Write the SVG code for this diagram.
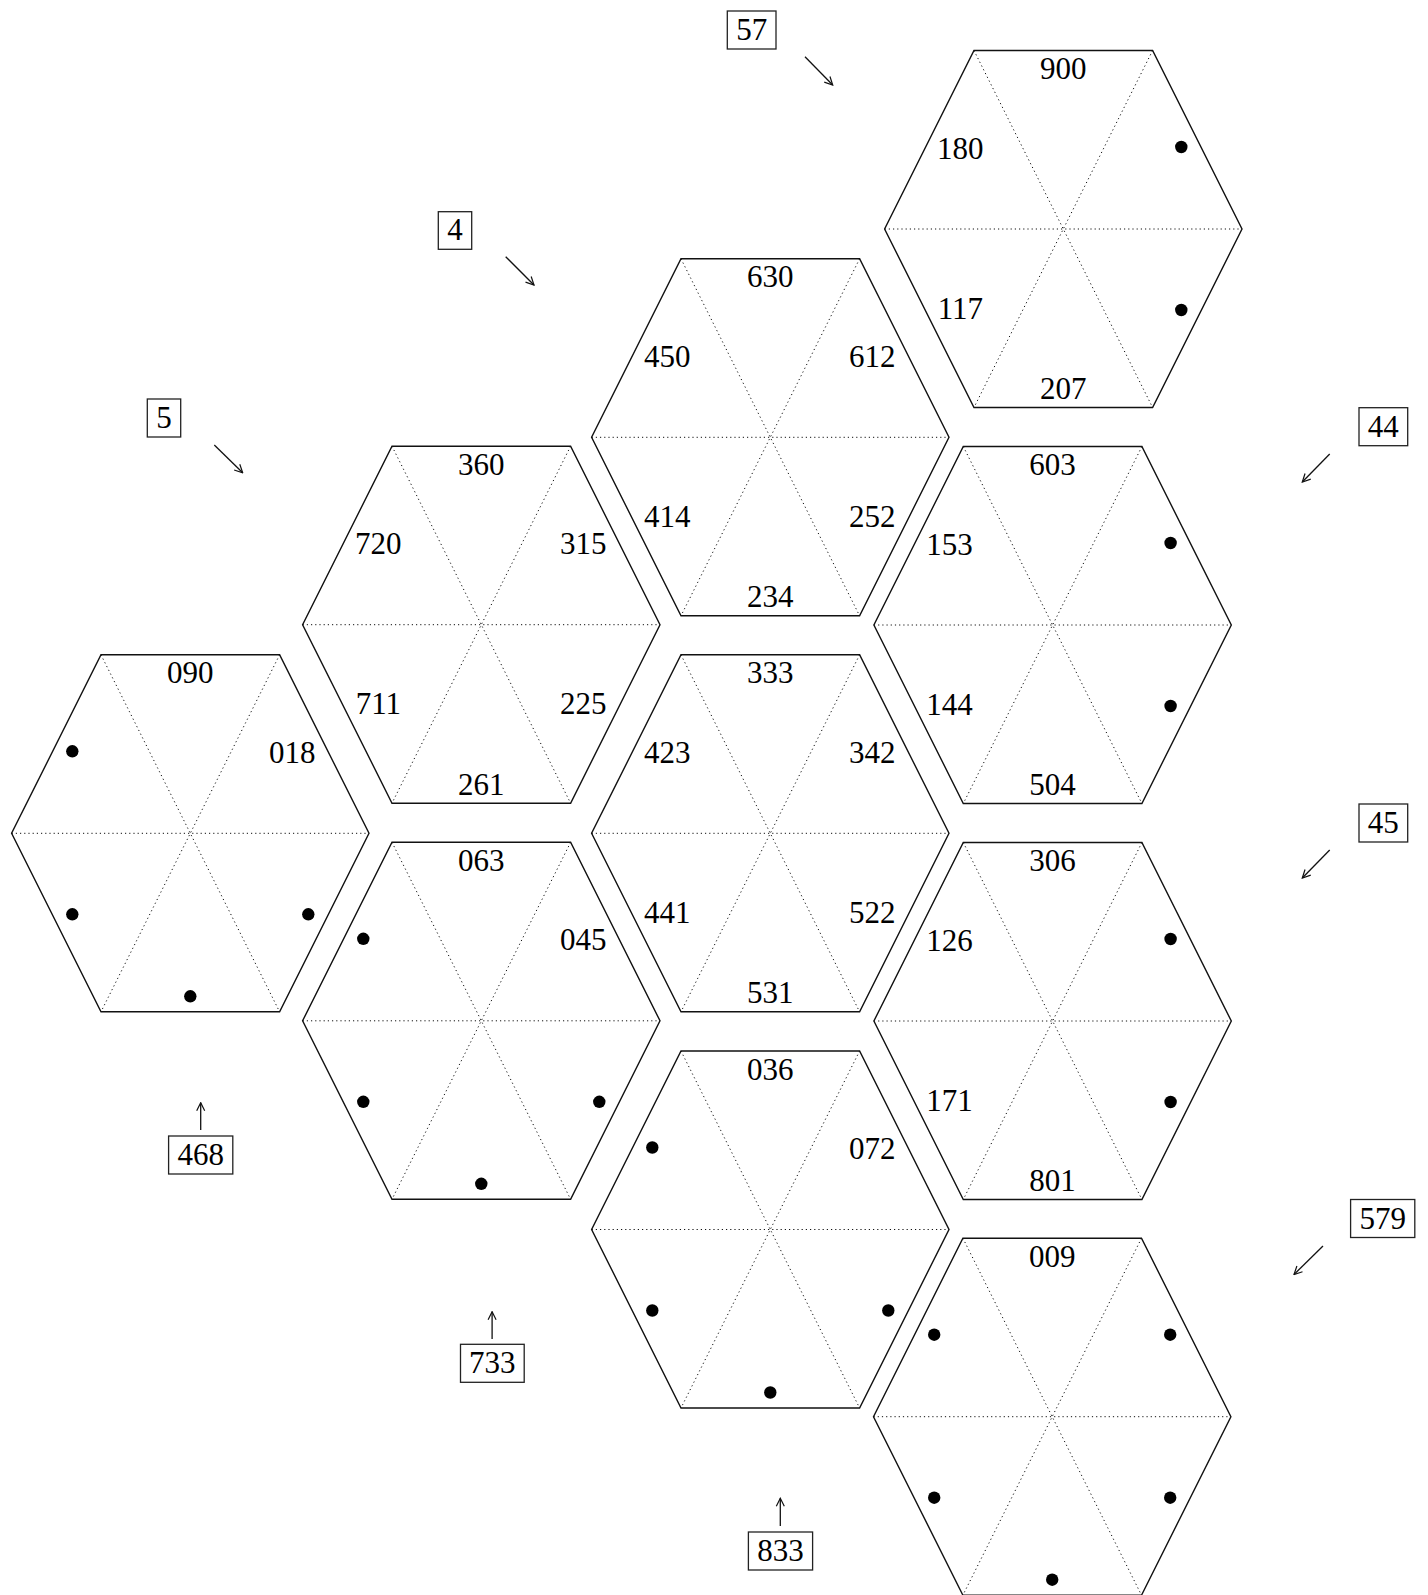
<svg xmlns="http://www.w3.org/2000/svg" xmlns:xlink="http://www.w3.org/1999/xlink" width="1428" height="1595" viewBox="0 0 1428 1595">
<style>
text{font-family:"Liberation Serif","Times New Roman",serif;font-size:31px;fill:#000;text-anchor:middle}
.out{fill:none;stroke:#111;stroke-width:1.4;stroke-linejoin:miter}
.dot{fill:none;stroke:#111;stroke-width:1;stroke-dasharray:1.2 3}
.box{fill:#fff;stroke:#222;stroke-width:1.3}
.arr{stroke:#111;stroke-width:1.3;fill:none;marker-end:url(#ah)}
.pt{fill:#000}
</style>
<defs>
<marker id="ah" viewBox="0 0 10 10" refX="9" refY="5" markerWidth="10" markerHeight="10" markerUnits="userSpaceOnUse" orient="auto">
<path d="M1,1 L9,5 L1,9" fill="none" stroke="#111" stroke-width="1.2"/>
</marker>
<g id="hex">
<line class="dot" x1="-178.7" y1="0" x2="178.7" y2="0"/>
<line class="dot" x1="-89.3" y1="-178.5" x2="89.3" y2="178.5"/>
<line class="dot" x1="89.3" y1="-178.5" x2="-89.3" y2="178.5"/>
<polygon class="out" points="-89.3,-178.5 89.3,-178.5 178.7,0 89.3,178.5 -89.3,178.5 -178.7,0"/>
</g>
</defs>
<rect width="1428" height="1595" fill="#fff"/>

<g id="hex900" transform="translate(1063.3,229)">
<use xlink:href="#hex"/>
<text x="0" y="-150">900</text><text x="-103" y="-70.5">180</text><circle class="pt" cx="118" cy="-82" r="6.2"/>
<text x="-103" y="89.5">117</text><circle class="pt" cx="118" cy="81" r="6.2"/><text x="0" y="170">207</text>
</g>
<g id="hex630" transform="translate(770.3,437.3)">
<use xlink:href="#hex"/>
<text x="0" y="-150">630</text><text x="-103" y="-70.5">450</text><text x="102" y="-70.5">612</text>
<text x="-103" y="89.5">414</text><text x="102" y="89.5">252</text><text x="0" y="170">234</text>
</g>
<g id="hex360" transform="translate(481.3,624.7)">
<use xlink:href="#hex"/>
<text x="0" y="-150">360</text><text x="-103" y="-70.5">720</text><text x="102" y="-70.5">315</text>
<text x="-103" y="89.5">711</text><text x="102" y="89.5">225</text><text x="0" y="170">261</text>
</g>
<g id="hex603" transform="translate(1052.6,625)">
<use xlink:href="#hex"/>
<text x="0" y="-150">603</text><text x="-103" y="-70.5">153</text><circle class="pt" cx="118" cy="-82" r="6.2"/>
<text x="-103" y="89.5">144</text><circle class="pt" cx="118" cy="81" r="6.2"/><text x="0" y="170">504</text>
</g>
<g id="hex090" transform="translate(190.3,833.3)">
<use xlink:href="#hex"/>
<text x="0" y="-150">090</text><circle class="pt" cx="-118" cy="-82" r="6.2"/><text x="102" y="-70.5">018</text>
<circle class="pt" cx="-118" cy="81" r="6.2"/><circle class="pt" cx="118" cy="81" r="6.2"/><circle class="pt" cx="0" cy="163" r="6.2"/>
</g>
<g id="hex333" transform="translate(770.3,833.3)">
<use xlink:href="#hex"/>
<text x="0" y="-150">333</text><text x="-103" y="-70.5">423</text><text x="102" y="-70.5">342</text>
<text x="-103" y="89.5">441</text><text x="102" y="89.5">522</text><text x="0" y="170">531</text>
</g>
<g id="hex063" transform="translate(481.3,1020.8)">
<use xlink:href="#hex"/>
<text x="0" y="-150">063</text><circle class="pt" cx="-118" cy="-82" r="6.2"/><text x="102" y="-70.5">045</text>
<circle class="pt" cx="-118" cy="81" r="6.2"/><circle class="pt" cx="118" cy="81" r="6.2"/><circle class="pt" cx="0" cy="163" r="6.2"/>
</g>
<g id="hex306" transform="translate(1052.6,1021)">
<use xlink:href="#hex"/>
<text x="0" y="-150">306</text><text x="-103" y="-70.5">126</text><circle class="pt" cx="118" cy="-82" r="6.2"/>
<text x="-103" y="89.5">171</text><circle class="pt" cx="118" cy="81" r="6.2"/><text x="0" y="170">801</text>
</g>
<g id="hex036" transform="translate(770.3,1229.5)">
<use xlink:href="#hex"/>
<text x="0" y="-150">036</text><circle class="pt" cx="-118" cy="-82" r="6.2"/><text x="102" y="-70.5">072</text>
<circle class="pt" cx="-118" cy="81" r="6.2"/><circle class="pt" cx="118" cy="81" r="6.2"/><circle class="pt" cx="0" cy="163" r="6.2"/>
</g>
<g id="hex009" transform="translate(1052.2,1416.7)">
<use xlink:href="#hex"/>
<text x="0" y="-150">009</text><circle class="pt" cx="-118" cy="-82" r="6.2"/><circle class="pt" cx="118" cy="-82" r="6.2"/>
<circle class="pt" cx="-118" cy="81" r="6.2"/><circle class="pt" cx="118" cy="81" r="6.2"/><circle class="pt" cx="0" cy="163" r="6.2"/>
</g>

<g id="label57"><rect class="box" x="727.3" y="11" width="48.7" height="38"/><text x="751.7" y="40">57</text></g>
<g id="label4"><rect class="box" x="438.3" y="211.7" width="33.4" height="37.6"/><text x="455" y="240.3">4</text></g>
<g id="label5"><rect class="box" x="147.3" y="399" width="33.4" height="38"/><text x="164" y="428">5</text></g>
<g id="label44"><rect class="box" x="1359" y="407.7" width="48.7" height="38"/><text x="1383.3" y="436.7">44</text></g>
<g id="label45"><rect class="box" x="1359" y="804" width="48.7" height="38"/><text x="1383.3" y="833">45</text></g>
<g id="label579"><rect class="box" x="1350.6" y="1199.5" width="64.2" height="38"/><text x="1382.7" y="1228.5">579</text></g>
<g id="label468"><rect class="box" x="168.6" y="1136" width="64.2" height="38"/><text x="200.7" y="1165">468</text></g>
<g id="label733"><rect class="box" x="460.5" y="1344.3" width="63.7" height="38"/><text x="492.3" y="1373.3">733</text></g>
<g id="label833"><rect class="box" x="748.4" y="1532" width="64.2" height="38"/><text x="780.5" y="1561">833</text></g>

<g id="connectors">
<line class="arr" x1="805" y1="56.7" x2="832.7" y2="85"/>
<line class="arr" x1="505.7" y1="256.7" x2="534" y2="285"/>
<line class="arr" x1="214.3" y1="445" x2="242.7" y2="472.7"/>
<line class="arr" x1="1329.7" y1="454" x2="1302.3" y2="482"/>
<line class="arr" x1="1329.7" y1="850" x2="1302.3" y2="878"/>
<line class="arr" x1="1323" y1="1246" x2="1294" y2="1274.5"/>
<line class="arr" x1="200.7" y1="1130" x2="200.7" y2="1102.7"/>
<line class="arr" x1="492.1" y1="1339" x2="492.1" y2="1311.7"/>
<line class="arr" x1="780.3" y1="1526" x2="780.3" y2="1498.3"/>
</g>
</svg>
